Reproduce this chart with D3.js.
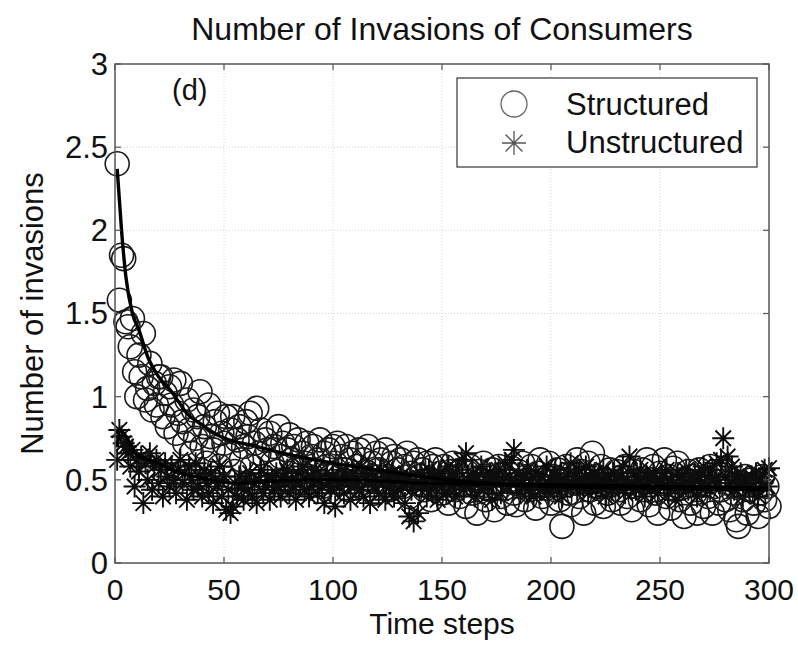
<!DOCTYPE html>
<html>
<head>
<meta charset="utf-8">
<script src="https://cdn.jsdelivr.net/npm/d3@7"></script>
<style>
  body { margin: 0; background: #fff; }
  svg { display: block; font-family: "Liberation Sans", Arial, sans-serif; }
</style>
</head>
<body>
<svg width="798" height="647"></svg>
<script>
// Number of invasions per time step (t = 1..300)
var structured = [
  2.40, 1.58, 1.85, 1.83, 1.45, 1.42, 1.30, 1.47, 1.15, 1.00,
  1.25, 1.12, 1.38, 0.98, 1.05, 1.20, 0.92, 1.08, 0.95, 1.12,
  1.12, 0.88, 1.02, 0.82, 1.06, 0.95, 1.10, 0.78, 0.90, 1.08,
  0.85, 0.72, 0.98, 0.80, 0.66, 0.92, 0.75, 0.88, 1.03, 0.70,
  0.82, 0.60, 0.95, 0.76, 0.68, 0.85, 0.90, 0.58, 0.78, 0.72,
  0.88, 0.65, 0.80, 0.88, 0.55, 0.74, 0.82, 0.62, 0.70, 0.85,
  0.76, 0.90, 0.58, 0.72, 0.93, 0.66, 0.80, 0.52, 0.74, 0.68,
  0.78, 0.60, 0.70, 0.55, 0.82, 0.64, 0.72, 0.50, 0.68, 0.77,
  0.62, 0.70, 0.56, 0.74, 0.48, 0.66, 0.60, 0.72, 0.52, 0.64,
  0.70, 0.55, 0.62, 0.74, 0.46, 0.66, 0.58, 0.68, 0.52, 0.70,
  0.60, 0.72, 0.48, 0.64, 0.56, 0.70, 0.44, 0.62, 0.66, 0.52,
  0.58, 0.68, 0.46, 0.62, 0.55, 0.70, 0.50, 0.60, 0.42, 0.66,
  0.56, 0.62, 0.48, 0.68, 0.52, 0.44, 0.60, 0.64, 0.50, 0.56,
  0.62, 0.46, 0.58, 0.66, 0.40, 0.54, 0.60, 0.48, 0.62, 0.52,
  0.56, 0.44, 0.60, 0.50, 0.38, 0.58, 0.62, 0.46, 0.54, 0.42,
  0.58, 0.48, 0.36, 0.55, 0.60, 0.44, 0.52, 0.40, 0.56, 0.47,
  0.34, 0.54, 0.58, 0.42, 0.50, 0.30, 0.55, 0.46, 0.60, 0.38,
  0.52, 0.44, 0.56, 0.32, 0.48, 0.58, 0.40, 0.53, 0.45, 0.36,
  0.50, 0.57, 0.42, 0.35, 0.55, 0.46, 0.60, 0.38, 0.52, 0.44,
  0.58, 0.48, 0.33, 0.54, 0.62, 0.40, 0.50, 0.45, 0.60, 0.36,
  0.52, 0.44, 0.56, 0.38, 0.22, 0.50, 0.58, 0.42, 0.35, 0.54,
  0.48, 0.62, 0.40, 0.55, 0.30, 0.50, 0.60, 0.44, 0.66, 0.36,
  0.52, 0.46, 0.58, 0.34, 0.50, 0.42, 0.56, 0.38, 0.48, 0.55,
  0.44, 0.36, 0.52, 0.58, 0.40, 0.48, 0.32, 0.55, 0.46, 0.50,
  0.38, 0.56, 0.44, 0.62, 0.35, 0.50, 0.58, 0.42, 0.30, 0.54,
  0.48, 0.62, 0.40, 0.52, 0.33, 0.57, 0.44, 0.60, 0.38, 0.50,
  0.28, 0.46, 0.55, 0.36, 0.52, 0.42, 0.30, 0.56, 0.48, 0.34,
  0.50, 0.40, 0.58, 0.30, 0.46, 0.52, 0.36, 0.44, 0.55, 0.38,
  0.48, 0.32, 0.50, 0.42, 0.26, 0.22, 0.46, 0.38, 0.52, 0.30,
  0.44, 0.50, 0.36, 0.48, 0.28, 0.42, 0.52, 0.38, 0.46, 0.34
];

var unstructured = [
  0.62, 0.80, 0.76, 0.72, 0.70, 0.66, 0.58, 0.68, 0.46, 0.62,
  0.55, 0.64, 0.36, 0.60, 0.50, 0.66, 0.44, 0.58, 0.62, 0.48,
  0.56, 0.40, 0.60, 0.52, 0.46, 0.58, 0.50, 0.42, 0.56, 0.62,
  0.48, 0.54, 0.38, 0.58, 0.50, 0.44, 0.60, 0.46, 0.52, 0.40,
  0.56, 0.48, 0.42, 0.54, 0.36, 0.50, 0.46, 0.58, 0.40, 0.52,
  0.32, 0.44, 0.30, 0.34, 0.48, 0.40, 0.52, 0.45, 0.38, 0.50,
  0.44, 0.54, 0.40, 0.48, 0.36, 0.50, 0.56, 0.42, 0.46, 0.52,
  0.38, 0.50, 0.44, 0.54, 0.46, 0.40, 0.52, 0.48, 0.56, 0.42,
  0.50, 0.46, 0.38, 0.54, 0.48, 0.58, 0.44, 0.50, 0.40, 0.52,
  0.48, 0.56, 0.42, 0.50, 0.46, 0.36, 0.54, 0.48, 0.44, 0.52,
  0.34, 0.50, 0.46, 0.56, 0.42, 0.52, 0.48, 0.38, 0.54, 0.46,
  0.50, 0.44, 0.58, 0.40, 0.52, 0.48, 0.36, 0.54, 0.46, 0.50,
  0.42, 0.56, 0.48, 0.38, 0.52, 0.46, 0.54, 0.40, 0.50, 0.44,
  0.52, 0.46, 0.36, 0.50, 0.28, 0.44, 0.25, 0.48, 0.30, 0.54,
  0.46, 0.50, 0.40, 0.56, 0.44, 0.52, 0.48, 0.38, 0.54, 0.46,
  0.50, 0.42, 0.58, 0.46, 0.52, 0.40, 0.56, 0.48, 0.62, 0.44,
  0.66, 0.50, 0.46, 0.54, 0.40, 0.52, 0.48, 0.58, 0.44, 0.50,
  0.46, 0.54, 0.38, 0.52, 0.48, 0.56, 0.42, 0.50, 0.60, 0.46,
  0.52, 0.62, 0.68, 0.48, 0.54, 0.42, 0.50, 0.46, 0.56, 0.44,
  0.50, 0.40, 0.54, 0.48, 0.44, 0.52, 0.46, 0.58, 0.42, 0.50,
  0.48, 0.56, 0.44, 0.52, 0.40, 0.50, 0.46, 0.54, 0.60, 0.48,
  0.52, 0.44, 0.56, 0.50, 0.46, 0.58, 0.42, 0.52, 0.48, 0.54,
  0.44, 0.50, 0.46, 0.56, 0.40, 0.52, 0.48, 0.44, 0.54, 0.50,
  0.46, 0.52, 0.58, 0.42, 0.50, 0.64, 0.48, 0.54, 0.44, 0.50,
  0.56, 0.46, 0.40, 0.52, 0.48, 0.44, 0.54, 0.50, 0.42, 0.48,
  0.52, 0.46, 0.56, 0.42, 0.50, 0.48, 0.38, 0.54, 0.46, 0.52,
  0.48, 0.56, 0.44, 0.50, 0.46, 0.54, 0.40, 0.52, 0.48, 0.58,
  0.46, 0.52, 0.44, 0.56, 0.50, 0.60, 0.48, 0.62, 0.75, 0.52,
  0.64, 0.48, 0.58, 0.44, 0.52, 0.46, 0.54, 0.40, 0.50, 0.48,
  0.44, 0.52, 0.46, 0.54, 0.40, 0.50, 0.48, 0.56, 0.46, 0.57
];

// fitted trend curves (time step, value)
var fitStructuredT = [1, 3, 5, 8, 11, 15, 20, 26, 33, 40, 47, 55, 62, 77, 100, 120, 140, 160, 200, 250, 300];
var fitStructuredV = [2.37, 2.0, 1.72, 1.5, 1.4, 1.24, 1.12, 1.03, 0.9, 0.83, 0.77, 0.73, 0.71, 0.66, 0.6, 0.56, 0.52, 0.49, 0.46, 0.45, 0.44];
var fitUnstructuredT = [1, 2, 4, 10, 16, 26, 40, 55, 70, 85, 110, 140, 200, 250, 300];
var fitUnstructuredV = [0.7, 0.8, 0.78, 0.65, 0.62, 0.56, 0.51, 0.48, 0.49, 0.5, 0.5, 0.48, 0.47, 0.46, 0.45];

var xTicks = [0, 50, 100, 150, 200, 250, 300];
var yTicks = [0, 0.5, 1, 1.5, 2, 2.5, 3];
var seriesNames = ["Structured", "Unstructured"];

var svg = d3.select("svg"),
    width = +svg.attr("width"),
    height = +svg.attr("height");

var margin = {left: 115, right: 29, top: 64, bottom: 84};

var x = d3.scaleLinear().domain([0, 300]).range([margin.left, width - margin.right]);
var y = d3.scaleLinear().domain([0, 3]).range([height - margin.bottom, margin.top]);

// dotted grid
var grid = svg.append("g").attr("stroke", "#d4d4d4").attr("stroke-dasharray", "1,2");
grid.selectAll(".gx").data(xTicks.slice(1, -1)).enter().append("line")
    .attr("x1", function (d) { return x(d); }).attr("x2", function (d) { return x(d); })
    .attr("y1", y(0)).attr("y2", y(3));
grid.selectAll(".gy").data(yTicks.slice(1, -1)).enter().append("line")
    .attr("y1", function (d) { return y(d); }).attr("y2", function (d) { return y(d); })
    .attr("x1", x(0)).attr("x2", x(300));

// asterisk marker, like matlab '*'
function asterisk(s) {
    var a = s * 0.707;
    return "M0," + (-s) + "L0," + s + "M" + (-s) + ",0L" + s + ",0" +
        "M" + (-a) + "," + (-a) + "L" + a + "," + a + "M" + (-a) + "," + a + "L" + a + "," + (-a);
}

// structured: circles
svg.append("g")
    .selectAll("circle")
    .data(structured)
    .enter()
    .append("circle")
    .attr("cx", function (d, i) { return x(i + 1); })
    .attr("cy", function (d) { return y(d); })
    .attr("r", 12)
    .attr("fill", "none")
    .attr("stroke", "#1a1a1a")
    .attr("stroke-width", 1.6);

// unstructured: asterisks
svg.append("g")
    .selectAll("path")
    .data(unstructured)
    .enter()
    .append("path")
    .attr("transform", function (d, i) { return "translate(" + x(i + 1) + "," + y(d) + ")"; })
    .attr("d", asterisk(11))
    .attr("fill", "none")
    .attr("stroke", "#0d0d0d")
    .attr("stroke-width", 1.9);

// fit lines
var line = d3.line()
    .x(function (d) { return x(d[0]); })
    .y(function (d) { return y(d[1]); })
    .curve(d3.curveMonotoneX);

svg.append("path")
    .datum(d3.zip(fitStructuredT, fitStructuredV))
    .attr("d", line)
    .attr("fill", "none").attr("stroke", "#000").attr("stroke-width", 3.4);
svg.append("path")
    .datum(d3.zip(fitUnstructuredT, fitUnstructuredV))
    .attr("d", line)
    .attr("fill", "none").attr("stroke", "#000").attr("stroke-width", 3.4);

// axes box
var axisColor = "#555";
svg.append("rect")
    .attr("x", x(0)).attr("y", y(3))
    .attr("width", x(300) - x(0)).attr("height", y(0) - y(3))
    .attr("fill", "none").attr("stroke", axisColor).attr("stroke-width", 1.5);

var ticks = svg.append("g").attr("stroke", axisColor).attr("stroke-width", 1.2);
xTicks.forEach(function (t) {
    ticks.append("line").attr("x1", x(t)).attr("x2", x(t)).attr("y1", y(0)).attr("y2", y(0) - 6);
    ticks.append("line").attr("x1", x(t)).attr("x2", x(t)).attr("y1", y(3)).attr("y2", y(3) + 6);
});
yTicks.forEach(function (t) {
    ticks.append("line").attr("y1", y(t)).attr("y2", y(t)).attr("x1", x(0)).attr("x2", x(0) + 6);
    ticks.append("line").attr("y1", y(t)).attr("y2", y(t)).attr("x1", x(300)).attr("x2", x(300) - 6);
});

// tick labels
svg.append("g").selectAll("text").data(xTicks).enter().append("text")
    .attr("x", function (d) { return x(d); })
    .attr("y", 600)
    .attr("text-anchor", "middle")
    .style("font-size", "30px")
    .attr("fill", "#111")
    .text(function (d) { return d; });

svg.append("g").selectAll("text").data(yTicks).enter().append("text")
    .attr("x", x(0) - 7)
    .attr("y", function (d) { return y(d); })
    .attr("dy", "0.35em")
    .attr("text-anchor", "end")
    .style("font-size", "31px")
    .attr("fill", "#111")
    .text(function (d) { return d; });

// titles
svg.append("text")
    .attr("x", (x(0) + x(300)) / 2).attr("y", 40)
    .attr("text-anchor", "middle")
    .style("font-size", "32px").attr("fill", "#111")
    .text("Number of Invasions of Consumers");

svg.append("text")
    .attr("x", (x(0) + x(300)) / 2).attr("y", 634)
    .attr("text-anchor", "middle")
    .style("font-size", "30px").attr("fill", "#111")
    .text("Time steps");

svg.append("text")
    .attr("transform", "translate(43," + ((y(0) + y(3)) / 2) + ") rotate(-90)")
    .attr("text-anchor", "middle")
    .style("font-size", "31px").attr("fill", "#111")
    .text("Number of invasions");

svg.append("text")
    .attr("x", 172).attr("y", 100)
    .style("font-size", "29px").attr("fill", "#111")
    .text("(d)");

// legend
var legend = svg.append("g").attr("class", "legend");
legend.append("rect")
    .attr("x", 457).attr("y", 78).attr("width", 300).attr("height", 89)
    .attr("fill", "#fff").attr("stroke", "#444").attr("stroke-width", 1.3);
legend.append("circle")
    .attr("cx", 514).attr("cy", 104).attr("r", 13)
    .attr("fill", "none").attr("stroke", "#666").attr("stroke-width", 1.3);
legend.append("path")
    .attr("transform", "translate(514,143)")
    .attr("d", asterisk(12))
    .attr("fill", "none").attr("stroke", "#555").attr("stroke-width", 1.3);
legend.selectAll(".lt").data(seriesNames).enter().append("text")
    .attr("x", 566)
    .attr("y", function (d, i) { return 115 + i * 38; })
    .style("font-size", "31px").attr("fill", "#111")
    .text(function (d) { return d; });
</script>
</body>
</html>
